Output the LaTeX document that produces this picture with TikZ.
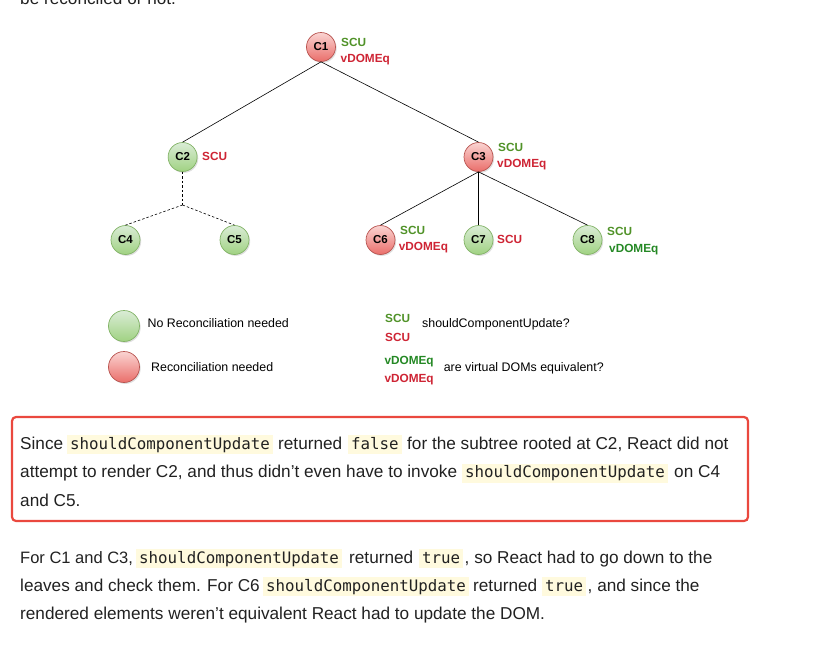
\documentclass[tikz,border=0pt]{standalone}
\usepackage{fontspec}
\setmainfont{Liberation Sans}
\newfontfamily\codefont{DejaVu Sans Mono}
\usetikzlibrary{shadows}
\definecolor{okline}{RGB}{130,179,102}
\definecolor{oktop}{RGB}{218,236,214}
\definecolor{okbot}{RGB}{160,210,130}
\definecolor{koline}{RGB}{184,84,80}
\definecolor{kotop}{RGB}{250,212,210}
\definecolor{kobot}{RGB}{234,110,106}
\definecolor{lblgreen}{RGB}{80,146,40}
\definecolor{lbldeep}{RGB}{36,136,36}
\definecolor{lblred}{RGB}{206,36,52}
\definecolor{boxred}{RGB}{234,72,62}
\definecolor{codebg}{RGB}{255,250,222}
\definecolor{bodytext}{RGB}{33,33,33}
\tikzset{
  comp/.style={circle, line width=0.7pt, minimum size=29pt, inner sep=0pt,
    font=\fontsize{11.5}{13}\selectfont\bfseries,
    drop shadow={shadow xshift=1.2pt, shadow yshift=-1.4pt, opacity=.25}},
  okcomp/.style={comp, draw=okline, top color=oktop, bottom color=okbot},
  kocomp/.style={comp, draw=koline, top color=kotop, bottom color=kobot},
  edge/.style={line width=0.6pt},
  skip/.style={line width=0.6pt, dash pattern=on 2.5pt off 2pt},
  lbl/.style={anchor=base west, inner sep=0pt, font=\fontsize{11.8}{14}\selectfont\bfseries},
  legtxt/.style={anchor=base west, inner sep=0pt, font=\fontsize{12.4}{15}\selectfont},
  txt/.style={anchor=base west, inner sep=0pt, text=bodytext, font=\fontsize{17.2}{20}\selectfont},
  code/.style={anchor=base west, inner xsep=3pt, inner ysep=0pt, text height=14pt,
    text depth=5pt, fill=codebg, text=bodytext, font=\codefont\fontsize{15.8}{18}\selectfont}
}
\begin{document}
\begin{tikzpicture}[x=1pt,y=-1pt]
    \useasboundingbox (0,0) rectangle (817,654);
    \clip (0,0) rectangle (817,654);
    % Ligne de texte coupée en haut
    \node[txt] (t0) at (20,4.5) {be reconciled or not.};
    % Arbre des composants
    \node[kocomp] (c1) at (321,47) {C1};
    \node[okcomp] (c2) at (182.6,157) {C2};
    \node[kocomp] (c3) at (478.5,157) {C3};
    \node[okcomp] (c4) at (125.5,240) {C4};
    \node[okcomp] (c5) at (234.5,240) {C5};
    \node[kocomp] (c6) at (380.5,240) {C6};
    \node[okcomp] (c7) at (478.5,240) {C7};
    \node[okcomp] (c8) at (587.5,240) {C8};
    % Liens
    \draw[edge] (c1.south) -- (c2.north);
    \draw[edge] (c1.south) -- (c3.north);
    \foreach \c in {c6,c7,c8} {
        \draw[edge] (c3.south) -- (\c.north);}
    \coordinate (j25) at (182.6,205);
    \draw[skip] (c2.south) -- (j25);
    \foreach \c in {c4,c5} {
        \draw[skip] (j25) -- (\c.north);}
    % Étiquettes SCU / vDOMEq
    \node[lbl, text=lblgreen] (s1) at (341,46) {SCU};
    \node[lbl, text=lblred] (v1) at (340.5,62.5) {vDOMEq};
    \node[lbl, text=lblred] (s2) at (202,160.2) {SCU};
    \node[lbl, text=lblgreen] (s3) at (498,151.5) {SCU};
    \node[lbl, text=lblred] (v3) at (497,167.5) {vDOMEq};
    \node[lbl, text=lblgreen] (s6) at (400,234.2) {SCU};
    \node[lbl, text=lblred] (v6) at (398.6,250.9) {vDOMEq};
    \node[lbl, text=lblred] (s7) at (497,243.5) {SCU};
    \node[lbl, text=lblgreen] (s8) at (607,235.2) {SCU};
    \node[lbl, text=lbldeep] (v8) at (609,252.5) {vDOMEq};
    % Légende
    \node[okcomp, minimum size=31pt] (lgok) at (124,326) {};
    \node[kocomp, minimum size=31pt] (lgko) at (124,367) {};
    \node[legtxt] (lgoktxt) at (147.4,327.7) {No Reconciliation needed};
    \node[legtxt] (lgkotxt) at (151,371.7) {Reconciliation needed};
    \node[lbl, text=lblgreen] (lgs1) at (385,322.5) {SCU};
    \node[lbl, text=lblred] (lgs2) at (385,341.9) {SCU};
    \node[legtxt] (lgstxt) at (422,327.7) {shouldComponentUpdate?};
    \node[lbl, text=lbldeep] (lgv1) at (384.3,364.2) {vDOMEq};
    \node[lbl, text=lblred] (lgv2) at (384.3,382.5) {vDOMEq};
    \node[legtxt] (lgvtxt) at (443.6,371.7) {are virtual DOMs equivalent?};
    % Paragraphe encadré
    \draw[boxred, line width=2.2pt, rounded corners=4pt] (12,417) rectangle (748,521);
    \node[txt] (t1a) at (20,449) {Since};
    \node[code] (t1b) at (67,449) {shouldComponentUpdate};
    \node[txt] (t1c) at (278,449) {returned};
    \node[code] (t1d) at (348,449) {false};
    \node[txt] (t1e) at (407,449) {for the subtree rooted at C2, React did not};
    \node[txt] (t2a) at (20,477.5) {attempt to render C2, and thus didn’t even have to invoke};
    \node[code] (t2b) at (462,477.5) {shouldComponentUpdate};
    \node[txt] (t2c) at (674,477.5) {on C4};
    \node[txt] (t3a) at (20,506) {and C5.};
    % Second paragraphe
    \node[txt, font=\fontsize{16.5}{20}\selectfont] (t4a) at (20,563) {For C1 and C3,};
    \node[code] (t4b) at (136,563) {shouldComponentUpdate};
    \node[txt] (t4c) at (349,563) {returned};
    \node[code] (t4d) at (419,563) {true};
    \node[txt] (t4e) at (464.5,563) {, so React had to go down to the};
    \node[txt] (t5a) at (20,591) {leaves and check them. For C6};
    \node[code] (t5b) at (263,591) {shouldComponentUpdate};
    \node[txt] (t5c) at (473,591) {returned};
    \node[code] (t5d) at (542,591) {true};
    \node[txt] (t5e) at (587.5,591) {, and since the};
    \node[txt] (t6a) at (20,619) {rendered elements weren’t equivalent React had to update the DOM.};
\end{tikzpicture}
\end{document}
